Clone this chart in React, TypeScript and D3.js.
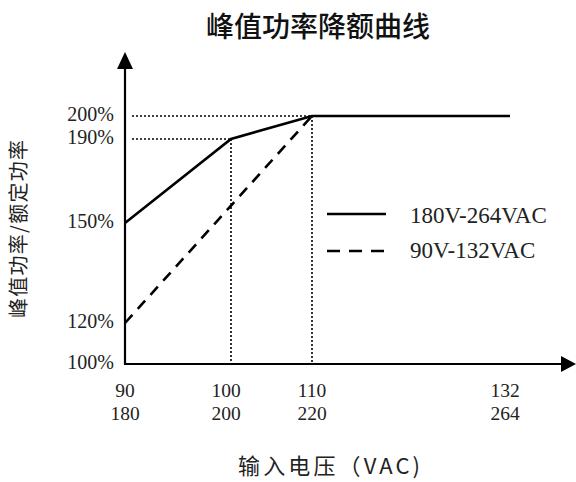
import React from "react";
import * as d3 from "d3";

// Data
const xTicks = [90, 100, 110, 132];
const xTicksHigh = [180, 200, 220, 264];
const yTicks = [100, 120, 150, 190, 200];
const yTickLabels = ["100%", "120%", "150%", "190%", "200%"];
const seriesNames = ["180V-264VAC", "90V-132VAC"];
const highLineX = [90, 100, 110, 132];
const highLineY = [150, 190, 200, 200];
const lowLineX = [90, 110];
const lowLineY = [120, 200];
const title = "峰值功率降额曲线";
const xTitle = "输入电压（VAC)";
const yTitle = "峰值功率/额定功率";

const W = 576;
const H = 482;

export default function App() {
  // schematic (piecewise) scales
  const x = d3.scaleLinear().domain([90, 100, 110, 132]).range([125, 231, 312, 510]);
  const y = d3.scaleLinear().domain([100, 120, 150, 190, 200]).range([364, 323, 223, 139, 116]);
  const line = d3
    .line<[number, number]>()
    .x((d) => x(d[0]))
    .y((d) => y(d[1]));
  const highPts = highLineX.map((v, i) => [v, highLineY[i]] as [number, number]);
  const lowPts = lowLineX.map((v, i) => [v, lowLineY[i]] as [number, number]);
  const x0 = x(90);
  const y0 = y(100);
  const serif = "'Liberation Serif', 'Times New Roman', serif";
  const cjk = "'Noto Sans CJK SC', sans-serif";

  return (
    <svg width={W} height={H} style={{ position: "absolute", left: 0, top: 0 }}>
      <rect width={W} height={H} fill="#fff" />
      <text x={318} y={37} textAnchor="middle" fontFamily={cjk} fontSize={28} fontWeight={500} fill="#111">
        {title}
      </text>
      {/* dotted guides */}
      <line x1={x0 + 7} x2={x(110)} y1={y(200)} y2={y(200)} stroke="#000" strokeWidth={1.6} strokeDasharray="2 2" />
      <line x1={x0 + 7} x2={x(100)} y1={y(190)} y2={y(190)} stroke="#000" strokeWidth={1.6} strokeDasharray="2 2" />
      <line x1={x(100)} x2={x(100)} y1={y(190)} y2={y0} stroke="#000" strokeWidth={1.6} strokeDasharray="2 2" />
      <line x1={x(110)} x2={x(110)} y1={y(200)} y2={y0} stroke="#000" strokeWidth={1.6} strokeDasharray="2 2" />
      {/* series */}
      <path d={line(highPts) || ""} fill="none" stroke="#000" strokeWidth={2.6} />
      <path d={line(lowPts) || ""} fill="none" stroke="#000" strokeWidth={2.6} strokeDasharray="11 8" />
      {/* axes */}
      <line x1={x0} x2={x0} y1={y0 + 1} y2={64} stroke="#000" strokeWidth={2.2} />
      <path d={`M${x0 - 8},69 L${x0},52 L${x0 + 8},69 Z`} fill="#000" />
      <line x1={x0 - 1} x2={566} y1={y0} y2={y0} stroke="#000" strokeWidth={2.2} />
      <path d={`M561,${y0 - 8} L576,${y0} L561,${y0 + 8} Z`} fill="#000" />
      {/* y labels */}
      {yTicks.map((t, i) => (
        <text key={t} x={114} y={y(t) + 5} textAnchor="end" fontFamily={serif} fontSize={20} fill="#222">
          {yTickLabels[i]}
        </text>
      ))}
      {/* x labels */}
      {xTicks.map((t, i) => (
        <g key={t}>
          <text x={x(t) - (t === 132 ? 5 : t === 100 ? 5 : 0)} y={397} textAnchor="middle" fontFamily={serif} fontSize={19.5} fill="#222">
            {t}
          </text>
          <text x={x(t) - (t === 132 ? 5 : t === 100 ? 5 : 0)} y={420} textAnchor="middle" fontFamily={serif} fontSize={19.5} fill="#222">
            {xTicksHigh[i]}
          </text>
        </g>
      ))}
      {/* legend */}
      <line x1={327} x2={386} y1={214} y2={214} stroke="#000" strokeWidth={2.6} />
      <line x1={327} x2={386} y1={251} y2={251} stroke="#000" strokeWidth={2.6} strokeDasharray="13 9" />
      <text x={410} y={223} fontFamily={serif} fontSize={23} fill="#222">{seriesNames[0]}</text>
      <text x={410} y={258} fontFamily={serif} fontSize={23} fill="#222">{seriesNames[1]}</text>
      {/* axis titles */}
      <text x={238} y={474} fontFamily={cjk} fontSize={22} fill="#222" textLength={182}>
        {xTitle}
      </text>
      <text
        transform={`translate(26,229) rotate(-90)`}
        textAnchor="middle"
        fontFamily={cjk}
        fontSize={20}
        fill="#222"
        textLength={178}
      >
        {yTitle}
      </text>
    </svg>
  );
}
